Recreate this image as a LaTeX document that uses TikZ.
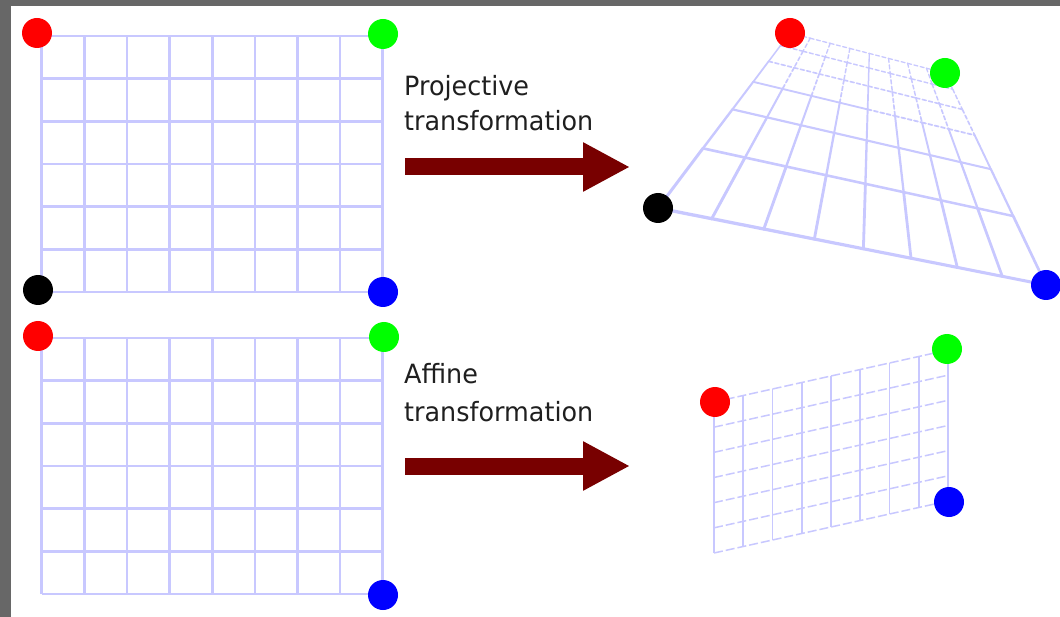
\documentclass[tikz,border=0pt]{standalone}
\usepackage{fontspec}
\newfontfamily\labelfont[FakeStretch=0.96]{DejaVu Sans}
\usetikzlibrary{arrows.meta}
\definecolor{gridblue}{RGB}{200,200,255}
\definecolor{arrowred}{RGB}{120,0,0}
\definecolor{bggray}{RGB}{103,103,103}
\definecolor{dotgreen}{RGB}{0,255,0}
\newcommand\hpt[2]{%
  \pgfmathsetmacro\hw{1+0.04813*(#1)-0.61304*(#2)}%
  \pgfmathsetmacro\hx{(200.48*(#1)-535.38*(#2)+790)/\hw}%
  \pgfmathsetmacro\hy{(43.51*(#1)+47.49*(#2)+33)/\hw}%
}
\begin{document}
\begin{tikzpicture}[x=1pt,y=-1pt,
  gridline/.style={draw=gridblue, line width=2.6pt, line cap=square},
  projline/.style={draw=gridblue, line cap=round},
  pdash/.style={dash pattern=on 4pt off 2.5pt},
  affv/.style={draw=gridblue, line width=1.8pt},
  affh/.style={draw=gridblue, line width=1.5pt, dash pattern=on 9pt off 3pt},
  dot/.style={circle, minimum size=30pt, inner sep=0pt, fill=#1},
  lbl/.style={anchor=base west, inner sep=0pt, font=\labelfont\fontsize{26.5}{30}\selectfont, text=black!88},
  bigarrow/.style={draw=arrowred, line width=17pt, -{Triangle[length=47pt,width=46pt]}}
]
\useasboundingbox (0,0) rectangle (1060,617);
\fill[bggray] (0,0) rectangle (1060,617);
\fill[white] (11,6) rectangle (1060,617);

% left grids
\foreach \oy in {36,338}{
  \foreach \i in {0,...,8}
    \draw[gridline] ({41.7+\i*42.625},{\oy}) -- ({41.7+\i*42.625},{\oy+256});
  \foreach \j in {0,...,6}
    \draw[gridline] (41.7,{\oy+\j*42.667}) -- (382.7,{\oy+\j*42.667});
}

% projective grid: vertical segments
\foreach \i in {0,...,8}{
  \foreach \j in {0,...,5}{
    \pgfmathsetmacro\uu{\i/8}
    \pgfmathsetmacro\va{\j/6}
    \pgfmathsetmacro\vb{(\j+1)/6}
    \hpt{\uu}{\va}\let\xa\hx\let\ya\hy\let\wa\hw
    \hpt{\uu}{\vb}\let\xb\hx\let\yb\hy\let\wb\hw
    \pgfmathsetmacro\lw{2.6/(\wa+\wb)}
    \pgfmathtruncatemacro\isdash{((\wa+\wb)/2>0.72)&&(\i!=0)&&(\i!=4)}
    \ifnum\isdash=1
      \draw[projline,pdash,line width=\lw pt] (\xa,\ya) -- (\xb,\yb);
    \else
      \draw[projline,line width=\lw pt] (\xa,\ya) -- (\xb,\yb);
    \fi
  }
}
% projective grid: horizontal segments
\foreach \j in {0,...,6}{
  \foreach \i in {0,...,7}{
    \pgfmathsetmacro\vv{\j/6}
    \pgfmathsetmacro\ua{\i/8}
    \pgfmathsetmacro\ub{(\i+1)/8}
    \hpt{\ua}{\vv}\let\xa\hx\let\ya\hy\let\wa\hw
    \hpt{\ub}{\vv}\let\xb\hx\let\yb\hy\let\wb\hw
    \pgfmathsetmacro\lw{2.6/(\wa+\wb)}
    \pgfmathtruncatemacro\isdash{((\wa+\wb)/2>0.72)}
    \ifnum\isdash=1
      \draw[projline,pdash,line width=\lw pt] (\xa,\ya) -- (\xb,\yb);
    \else
      \draw[projline,line width=\lw pt] (\xa,\ya) -- (\xb,\yb);
    \fi
  }
}

% affine grid
\foreach \i in {0,...,8}
  \draw[affv] ({714+\i*234/8},{402-\i*52/8}) -- ({714+\i*234/8},{553-\i*52/8});
\foreach \j in {0,...,6}
  \draw[affh] (714,{402+\j*151/6}) -- (948,{350+\j*151/6});

% labels
\node[lbl] (ptxt1) at (404,96) {Projective};
\node[lbl] (ptxt2) at (404,131) {transformation};
\node[lbl] (atxt1) at (404,384) {Affine};
\node[lbl] (atxt2) at (404,421) {transformation};

% arrows
\coordinate (p1s) at (405,167);
\coordinate (p1e) at (630,167);
\coordinate (p2s) at (405,466);
\coordinate (p2e) at (630,466);
\draw[bigarrow] (p1s) -- (p1e);
\draw[bigarrow] (p2s) -- (p2e);

% dots
\node[dot=red] (tl1) at (37,33) {};
\node[dot=dotgreen] (tr1) at (383,34) {};
\node[dot=black] (bl1) at (38,290) {};
\node[dot=blue] (br1) at (383,292) {};
\node[dot=red] (tl2) at (38,336) {};
\node[dot=dotgreen] (tr2) at (384,337) {};
\node[dot=blue] (br2) at (383,595) {};
\node[dot=red] (ptl) at (790,33) {};
\node[dot=dotgreen] (ptr) at (945,73) {};
\node[dot=black] (pbl) at (658,208) {};
\node[dot=blue] (pbr) at (1046,285) {};
\node[dot=red] (atl) at (715,402) {};
\node[dot=dotgreen] (atr) at (947,349) {};
\node[dot=blue] (abr) at (949,502) {};
\end{tikzpicture}
\end{document}
